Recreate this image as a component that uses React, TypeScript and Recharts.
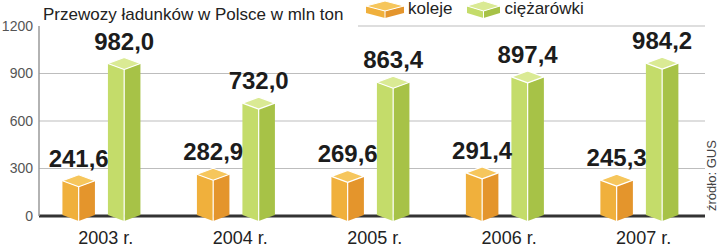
import React from 'react';
import { BarChart, Bar, XAxis, YAxis, CartesianGrid, LabelList, Legend } from 'recharts';

const years = ['2003 r.', '2004 r.', '2005 r.', '2006 r.', '2007 r.'];
const koleje = [241.6, 282.9, 269.6, 291.4, 245.3];
const ciezarowki = [982.0, 732.0, 863.4, 897.4, 984.2];
const yTicks = [0, 300, 600, 900, 1200];
const xIdx = [0, 1, 2, 3, 4];

const data = years.map((year, i) => ({ i: xIdx[i], year, koleje: koleje[i], ciezarowki: ciezarowki[i] }));

const FONT = '"Liberation Sans", Arial, sans-serif';
const ORANGE = { left: '#F0B03C', right: '#E4952C', top: '#F6C65C' };
const GREEN = { left: '#C4DC6A', right: '#A7C247', top: '#DAEA94' };

const legendItems = [
  { name: 'koleje', colors: ORANGE, w: 38 },
  { name: 'ciężarówki', colors: GREEN, w: 33 },
];

function Cuboid(props: any) {
  const { x, y, width, height, colors } = props;
  if (width == null || height == null) return null;
  const d = 6;
  const cx = x + width / 2;
  const yc = y + 3;
  const yb = y + height - 1;
  const left = `${x},${yc} ${cx},${yc + d} ${cx},${yb + d} ${x},${yb}`;
  const right = `${cx},${yc + d} ${x + width},${yc} ${x + width},${yb} ${cx},${yb + d}`;
  const top = `${x},${yc} ${cx},${yc - d} ${x + width},${yc} ${cx},${yc + d}`;
  return (
    <g>
      <polygon points={left} fill={colors.left} />
      <polygon points={right} fill={colors.right} />
      <polygon points={top} fill={colors.top} stroke="#fff" strokeWidth={1.2} strokeLinejoin="round" />
      <line x1={cx} y1={yc + d} x2={cx} y2={yb + d} stroke="#fff" strokeWidth={1.2} />
    </g>
  );
}

const renderValueLabel = (p: any) => {
  const vb = p.viewBox || {};
  const x = p.x ?? vb.x;
  const y = p.y ?? vb.y;
  const w = p.width ?? vb.width;
  if (x == null || y == null) return null;
  const txt = Number(p.value).toFixed(1).replace('.', ',');
  return (
    <text x={x + w / 2} y={y - 11} textAnchor="middle" fontFamily={FONT} fontWeight="bold" fontSize={24} fill="#1c1c1c">
      {txt}
    </text>
  );
};

const gridLine = (p: any) => {
  const { x1, x2, y1, key } = p;
  if (y1 > 210) {
    return <line key={key} x1={x1} x2={x2} y1={y1} y2={y1} stroke="#333" strokeWidth={3} />;
  }
  if (y1 < 30) {
    return <line key={key} x1={358} x2={x2} y1={y1} y2={y1} stroke="#bdbdbd" strokeWidth={1.2} />;
  }
  return <line key={key} x1={x1} x2={x2} y1={y1} y2={y1} stroke="#bdbdbd" strokeWidth={1.2} />;
};

const XTick = (p: any) => (
  <text x={p.x + 4} y={p.y} dy="0.71em" textAnchor="middle" fontFamily={FONT} fontSize={18} fill="#222">
    {years[p.payload.value]}
  </text>
);

const IconBox = ({ colors, w }: any) => {
  const c = w / 2;
  return (
    <svg width={w} height={18} style={{ display: 'block' }}>
      <polygon points={`0,6 ${c},11 ${c},18 0,13`} fill={colors.left} />
      <polygon points={`${c},11 ${w},6 ${w},13 ${c},18`} fill={colors.right} />
      <polygon points={`0,6 ${c},1 ${w},6 ${c},11`} fill={colors.top} stroke="#fff" strokeWidth={1} />
      <line x1={c} y1={11} x2={c} y2={18} stroke="#fff" strokeWidth={1} />
    </svg>
  );
};

const renderLegend = () => (
  <div style={{ display: 'flex', alignItems: 'center', fontFamily: FONT, fontSize: 17, color: '#222', whiteSpace: 'nowrap' }}>
    {legendItems.map((it, k) => (
      <div key={it.name} style={{ display: 'flex', alignItems: 'center', marginRight: k === 0 ? 15 : 0 }}>
        <IconBox colors={it.colors} w={it.w} />
        <span style={{ marginLeft: 4, lineHeight: '18px' }}>{it.name}</span>
      </div>
    ))}
  </div>
);

export default function App() {
  return (
    <div style={{ position: 'absolute', left: 0, top: 0, width: 720, height: 248, background: '#fff' }}>
      <div style={{ position: 'absolute', left: 43, top: 6, fontFamily: FONT, fontSize: 17, lineHeight: '17px', color: '#222', whiteSpace: 'nowrap' }}>
        Przewozy ładunków w Polsce w mln ton
      </div>
      <BarChart
        width={720}
        height={248}
        data={data}
        margin={{ top: 26, right: 15, bottom: 0, left: 0 }}
        barGap={13}
      >
        <CartesianGrid vertical={false} horizontal={gridLine} />
        <XAxis
          type="number"
          dataKey="i"
          domain={[-0.466, 4.486]}
          ticks={xIdx}
          interval={0}
          axisLine={false}
          tickLine={false}
          tickSize={0}
          tickMargin={15}
          height={32}
          tick={XTick}
        />
        <YAxis
          domain={[0, 1200]}
          ticks={yTicks}
          width={39}
          axisLine={{ stroke: '#9a9a9a', strokeWidth: 1.5 }}
          tickLine={false}
          tickSize={4}
          tickMargin={2}
          tick={{ fontSize: 14, fill: '#555', fontFamily: FONT }}
        />
        <Legend
          layout="horizontal"
          verticalAlign="middle"
          align="center"
          wrapperStyle={{ top: 0, left: 366, width: 'auto', height: 'auto' }}
          content={renderLegend}
        />
        <Bar dataKey="koleje" barSize={32.5} isAnimationActive={false} shape={(p: any) => <Cuboid {...p} colors={ORANGE} />}>
          <LabelList dataKey="koleje" content={renderValueLabel} />
        </Bar>
        <Bar dataKey="ciezarowki" barSize={32.5} isAnimationActive={false} shape={(p: any) => <Cuboid {...p} colors={GREEN} />}>
          <LabelList dataKey="ciezarowki" content={renderValueLabel} />
        </Bar>
      </BarChart>
      <svg width={720} height={248} style={{ position: 'absolute', left: 0, top: 0, pointerEvents: 'none' }}>
        <text transform="translate(716,211) rotate(-90)" fontFamily={FONT} fontSize={13} fill="#444">
          źródło: GUS
        </text>
      </svg>
    </div>
  );
}
